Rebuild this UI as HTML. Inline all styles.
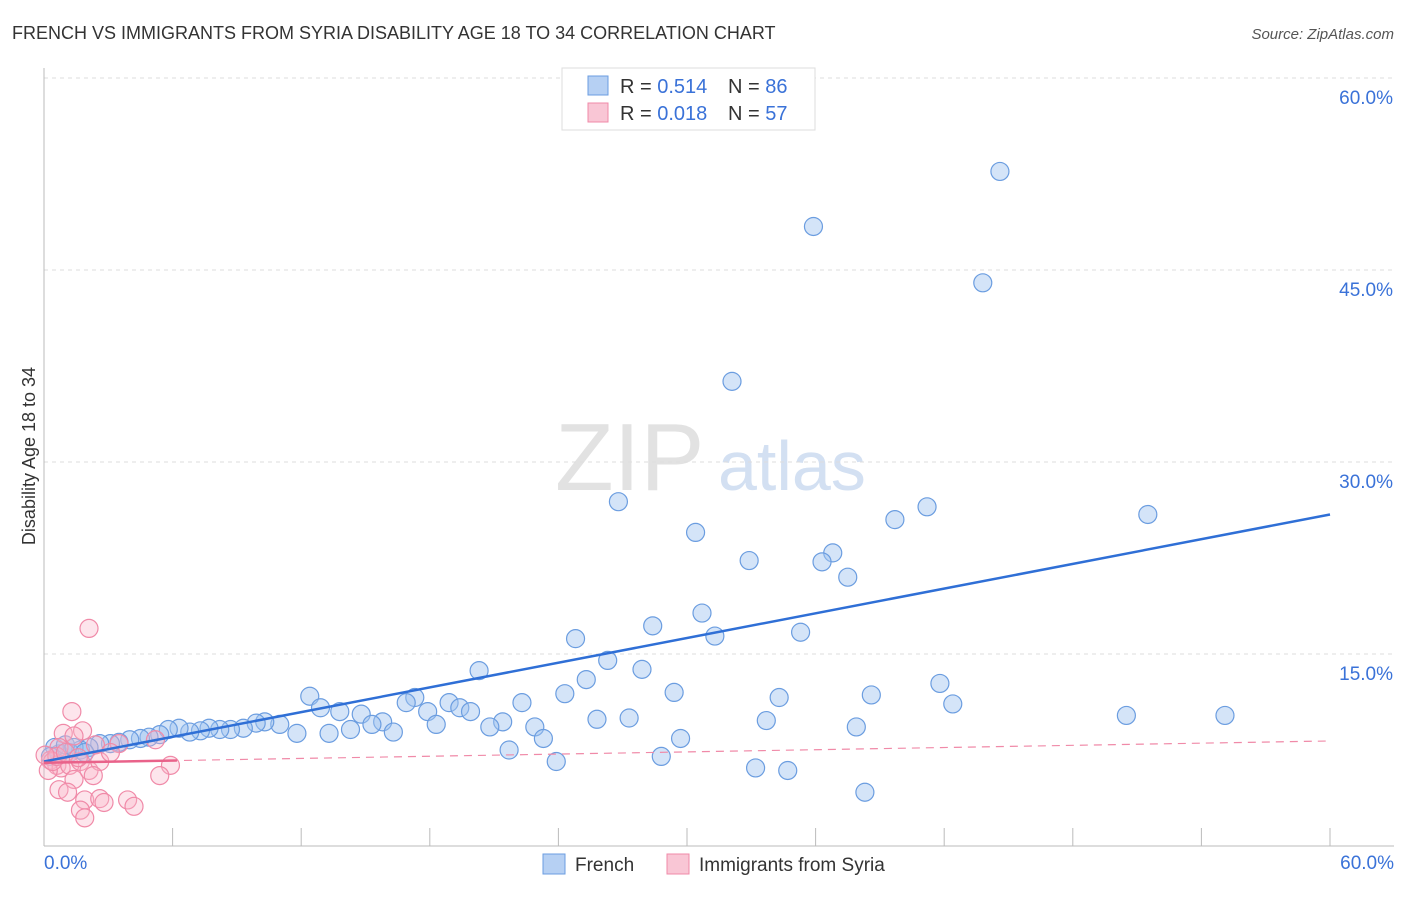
<!DOCTYPE html>
<html><head><meta charset="utf-8"><style>
body{margin:0;background:#fff;font-family:"Liberation Sans",sans-serif}
svg text{font-family:"Liberation Sans",sans-serif}
</style></head><body>
<svg id="c" width="1406" height="892">
<text x="12" y="39" font-size="18" fill="#333">FRENCH VS IMMIGRANTS FROM SYRIA DISABILITY AGE 18 TO 34 CORRELATION CHART</text>
<text x="1394" y="39" font-size="15" fill="#555" text-anchor="end" font-style="italic">Source: ZipAtlas.com</text>
<text x="35" y="456" font-size="18" fill="#333" text-anchor="middle" transform="rotate(-90 35 456)">Disability Age 18 to 34</text>
<text x="555" y="490" font-size="96" fill="#e2e2e2" font-family="Liberation Serif">ZIP</text>
<text x="718" y="490" font-size="70" fill="#d3e0f2">atlas</text>
<g id="grid"></g><g id="pts"></g><g id="lines"></g>
<g>
<rect x="562" y="68" width="253" height="62" fill="#fff" stroke="#ddd"/>
<rect x="588" y="76" width="20" height="19" fill="#b6d0f3" stroke="#6b9de0"/>
<text x="620" y="93" font-size="20" fill="#333">R = <tspan fill="#3a72d8">0.514</tspan></text>
<text x="728" y="93" font-size="20" fill="#333">N = <tspan fill="#3a72d8">86</tspan></text>
<rect x="588" y="103" width="20" height="19" fill="#f9c6d5" stroke="#f08aa8"/>
<text x="620" y="120" font-size="20" fill="#333">R = <tspan fill="#3a72d8">0.018</tspan></text>
<text x="728" y="120" font-size="20" fill="#333">N = <tspan fill="#3a72d8">57</tspan></text>
</g>
<g>
<rect x="543" y="854" width="22" height="20" fill="#b6d0f3" stroke="#6b9de0"/>
<text x="575" y="871" font-size="19" fill="#333">French</text>
<rect x="667" y="854" width="22" height="20" fill="#f9c6d5" stroke="#f08aa8"/>
<text x="699" y="871" font-size="19" fill="#333">Immigrants from Syria</text>
</g>
</svg>
<script>
const yTicks=[15,30,45,60];
const blueX=[44.6,35.9,43.8,32.1,26.8,30.4,41.2,39.7,51.5,32.9,36.8,36.3,37.5,30.7,28.4,24.8,31.3,35.3,26.3,27.9,20.3,25.3,41.8,12.4,29.4,34.3,38.6,24.3,17.3,16.9,22.3,18.9,42.4,12.9,19.4,13.8,14.8,17.9,19.9,50.5,55.1,25.8,27.3,33.7,15.8,15.3,21.4,18.3,20.8,22.9,37.9,14.3,16.3,13.3,11.8,23.3,29.7,21.7,28.8,23.9,33.2,34.7,38.3,11.0,10.3,9.9,9.3,8.7,8.2,7.7,7.3,6.8,6.3,5.8,5.4,4.9,4.5,4.0,3.5,3.1,2.6,2.1,1.7,1.2,0.7,0.5,1.0,1.4,1.9,0.3];
const blueY=[52.7,48.4,44.0,36.3,26.9,24.5,26.5,25.5,25.9,22.3,22.9,22.2,21.0,18.2,17.2,16.2,16.4,16.7,14.5,13.8,13.7,13.0,12.7,11.7,12.0,11.6,11.8,11.9,11.6,11.2,11.2,11.2,11.1,10.8,10.8,10.5,10.3,10.5,10.5,10.2,10.2,9.9,10.0,9.8,9.7,9.5,9.7,9.5,9.3,9.3,9.3,9.1,8.9,8.8,8.8,8.4,8.4,7.5,7.0,6.6,6.1,5.9,4.2,9.5,9.7,9.6,9.2,9.1,9.1,9.2,9.0,8.9,9.2,9.1,8.7,8.5,8.4,8.3,8.1,8.0,8.0,7.7,7.5,7.3,7.2,7.7,7.9,7.7,7.3,7.0];
const pinkX=[2.1,1.3,1.8,0.9,1.4,0.7,5.2,3.5,0.3,0.6,0.8,1.2,1.7,2.1,2.6,0.2,5.9,5.4,2.3,1.4,0.7,1.1,1.9,2.6,2.8,3.9,4.2,1.7,1.9,0.4,0.6,2.4,3.1,0.05,1.0,1.6];
const pinkY=[17.0,10.5,9.0,8.8,8.6,7.7,8.3,8.0,6.7,6.3,6.1,6.3,6.6,5.9,6.6,5.9,6.3,5.5,5.5,5.2,4.4,4.2,3.6,3.7,3.4,3.6,3.1,2.8,2.2,6.6,7.0,7.9,7.3,7.1,7.3,6.9];
const blueTrend=[6.6,25.9], pinkTrend=[6.5,8.2], pinkSolidEnd=6.2;
const X=v=>44+v/60*1286, Y=v=>846-v/60*768;
const NS='http://www.w3.org/2000/svg';
function mk(p,t,a){const e=document.createElementNS(NS,t);for(const k in a)e.setAttribute(k,a[k]);p.appendChild(e);return e;}
const g=document.getElementById('grid');
for(const t of yTicks){
 const l=mk(g,'line',{x1:44,x2:1394,y1:Y(t),y2:Y(t),stroke:'#ddd','stroke-dasharray':'4,4'});
 
 
 const tx=mk(g,'text',{x:1393,y:Y(t)+26,'font-size':19,fill:'#3a72d8','text-anchor':'end'});tx.textContent=t.toFixed(1)+'%';
 
 
}
mk(g,'line',{x1:44,x2:44,y1:68,y2:846,stroke:'#bbb'});
mk(g,'line',{x1:44,x2:1394,y1:846,y2:846,stroke:'#bbb'});
for(let i=0;i<=10;i++){mk(g,'line',{x1:X(i*6),x2:X(i*6),y1:828,y2:846,stroke:'#bbb'});}
let t0=mk(g,'text',{x:44,y:869,'font-size':19,fill:'#3a72d8'});t0.textContent='0.0%';


let t1=mk(g,'text',{x:1394,y:869,'font-size':19,fill:'#3a72d8','text-anchor':'end'});t1.textContent='60.0%';


const P=document.getElementById('pts');
blueX.forEach((x,i)=>{const c=mk(P,'circle',{cx:X(x),cy:Y(blueY[i]),r:9,fill:'rgba(160,196,240,0.45)',stroke:'#6b9de0','stroke-width':1.2});
 
 });
pinkX.forEach((x,i)=>{const c=mk(P,'circle',{cx:X(x),cy:Y(pinkY[i]),r:9,fill:'rgba(248,180,200,0.35)',stroke:'#f08aa8','stroke-width':1.2});
 
 });
const L=document.getElementById('lines');
let bl=mk(L,'line',{x1:X(0),y1:Y(blueTrend[0]),x2:X(60),y2:Y(blueTrend[1]),stroke:'#2f6fd6','stroke-width':2.5});


let pd=mk(L,'line',{x1:X(0),y1:Y(pinkTrend[0]),x2:X(59.8),y2:Y(pinkTrend[1]),stroke:'#f08aa8','stroke-width':1.2,'stroke-dasharray':'8,6'});


let ps=mk(L,'line',{x1:X(0),y1:Y(pinkTrend[0]),x2:X(pinkSolidEnd),y2:Y(pinkTrend[0]+(pinkTrend[1]-pinkTrend[0])*pinkSolidEnd/60),stroke:'#e9628a','stroke-width':2.5});


</script>
</body></html>
